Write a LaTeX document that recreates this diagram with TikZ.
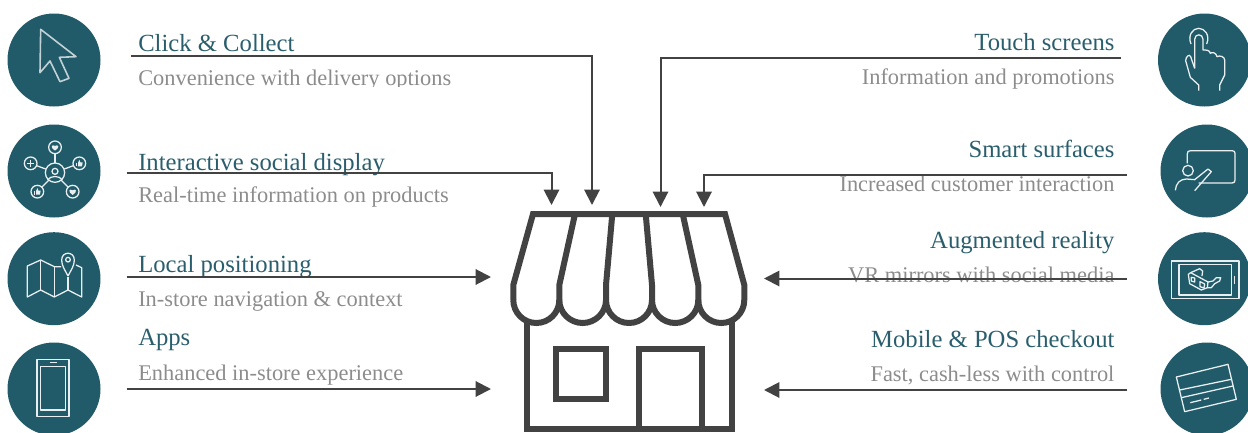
\documentclass[tikz,border=0pt]{standalone}
\usepackage{fontspec}
\setmainfont{Liberation Serif}
\usetikzlibrary{arrows.meta,calc,positioning}
\definecolor{tealdark}{HTML}{215B6A}
\definecolor{titleteal}{HTML}{2A5E6D}
\definecolor{subgray}{HTML}{8C8C8C}
\definecolor{linegray}{HTML}{424242}
\tikzset{
    mytitle/.style={inner sep=0pt,text=titleteal,font=\fontsize{18.5}{20}\selectfont},
    mysub/.style={inner sep=0pt,text=subgray,font=\fontsize{16.8}{18}\selectfont},
    myarrow/.style={draw=linegray,line width=1.5pt,-{Triangle[length=11.5pt,width=11.5pt]}},
    mystore/.style={draw=linegray,line width=4.5pt,line join=miter},
    myicon/.style={draw=white!90!tealdark,line width=0.95pt,line join=round},
    mycursor/.style={draw=white!72!tealdark,line width=1.2pt,line join=round},
    myzoom/.style={scale=1/3}
}

\begin{document}
\begin{tikzpicture}[x=0.75pt,y=-0.75pt]
  \path[use as bounding box,clip] (0,0) rectangle (1248,432);

  % discs
  \foreach \P/\Q in {54/60,54/171,54/278.7,54/389,1204.5/60,1207/171,1204.5/278.7,1207/389}{
    \fill[tealdark] (\P,\Q) circle (46.5);
  }

  % left texts
  \node[mytitle,anchor=base west] (tClick) at (138,51) {Click \& Collect};
  \begin{scope}
    \clip (130,60) rectangle (470,86.3);
    \node[mysub,anchor=base west] (sClick) at (138,85.8) {Convenience with delivery options};
  \end{scope}
  \node[mytitle,anchor=base west] (tSocial) at (138,170) {Interactive social display};
  \node[mysub,anchor=base west]   (sSocial) at (138,202.7) {Real-time information on products};
  \node[mytitle,anchor=base west] (tLocal) at (138,272) {Local positioning};
  \node[mysub,anchor=base west]   (sLocal) at (138,306.8) {In-store navigation \& context};
  \node[mytitle,anchor=base west] (tApps) at (138,345.5) {Apps};
  \node[mysub,anchor=base west]   (sApps) at (138,380) {Enhanced in-store experience};

  % right texts
  \node[mytitle,anchor=base east] (tTouch) at (1114.7,50.5) {Touch screens};
  \node[mysub,anchor=base east]   (sTouch) at (1114.7,84.8) {Information and promotions};
  \node[mytitle,anchor=base east] (tSmart) at (1114.7,157.3) {Smart surfaces};
  \node[mysub,anchor=base east]   (sSmart) at (1114.7,191.5) {Increased customer interaction};
  \node[mytitle,anchor=base east] (tAug) at (1114.7,248.3) {Augmented reality};
  \node[mysub,anchor=base east]   (sAug) at (1114.7,282.5) {VR mirrors with social media};
  \node[mytitle,anchor=base east] (tPos) at (1114.7,347) {Mobile \& POS checkout};
  \node[mysub,anchor=base east]   (sPos) at (1114.7,381.8) {Fast, cash-less with control};

  % connector ends
  \coordinate (L1) at (131,55.5);
  \coordinate (L2) at (127,173);
  \coordinate (L3) at (127,277);
  \coordinate (L4) at (127,389);
  \coordinate (R1) at (1121,57.5);
  \coordinate (R2) at (1127,174.5);
  \coordinate (R3) at (1127,278.5);
  \coordinate (R4) at (1127,390);
  \coordinate (T1) at (592,205);
  \coordinate (T2) at (551.5,205);
  \coordinate (T3) at (660.5,207);
  \coordinate (T4) at (704,207);
  \coordinate (S3) at (491,277);
  \coordinate (S4) at (491,389);
  \coordinate (S7) at (764,278.5);
  \coordinate (S8) at (764,390);

  \draw[myarrow] (L1) -| (T1);
  \draw[myarrow] (L2) -| (T2);
  \draw[myarrow] (L3) -- (S3);
  \draw[myarrow] (L4) -- (S4);
  \draw[myarrow] (R1) -| (T3);
  \draw[myarrow] (R2) -| (T4);
  \draw[myarrow] (R3) -- (S7);
  \draw[myarrow] (R4) -- (S8);

  % store
  \draw[mystore] (526.7,322) -- (526.7,429.3) -- (731.7,429.3) -- (731.7,322);
  \draw[mystore] (556,349) rectangle (606,399);
  \draw[mystore] (638.7,429.3) -- (638.7,349) -- (701.7,349) -- (701.7,429.3);
  \draw[mystore] (513.3,300) -- (513.3,285) -- (533,214) -- (725,214) -- (744.3,285) -- (744.3,300);
  \foreach \P/\Q in {575/559.3,612.3/606,645.7/652,682.7/698.3}{
    \draw[mystore] (\P,214) -- (\Q,285) -- (\Q,300);
  }
  \foreach \P/\Q in {513.3/559.3,559.3/606,606/652,652/698.3,698.3/744.3}{
    \draw[mystore] (\P,300) .. controls (\P,312.7) and ({(\P+\Q)/2-12.7},323) .. ({(\P+\Q)/2},323)
      .. controls ({(\P+\Q)/2+12.7},323) and (\Q,312.7) .. (\Q,300);
  }

  % icons, left column
  \begin{scope}[myzoom]
    \draw[mycursor] (122,88) -- (228,170) -- (178,172) -- (207,235) -- (180,245)
      -- (150,183) -- (120,218) -- cycle;
    % social
    \draw[myicon] (165,518) circle (29);
    \draw[myicon] (165,514) circle (9);
    \draw[myicon] (143,540) .. controls (150,526) and (180,526) .. (187,540);
    \foreach \P/\Q in {165/442,92/490,238/490,112/575,218/575}{
      \draw[myicon] (\P,\Q) circle (19);
    }
    \draw[myicon] (165,461) -- (165,489);
    \draw[myicon] (110,497) -- (137,507);
    \draw[myicon] (220,497) -- (193,507);
    \draw[myicon] (126,561) -- (147,540);
    \draw[myicon] (204,561) -- (183,540);
    \draw[myicon] (82,490) -- (102,490) (92,480) -- (92,500);
    \foreach \P/\Q in {165/442,218/575}{
      \fill[white!90!tealdark] (\P,\Q+10) .. controls (\P-16,\Q) and (\P-10,\Q-11) .. (\P,\Q-4)
        .. controls (\P+10,\Q-11) and (\P+16,\Q) .. (\P,\Q+10);
    }
    \foreach \P/\Q in {238/490,112/575}{
      \fill[white!90!tealdark] (\P-10,\Q-1) rectangle (\P-6,\Q+9);
      \fill[white!90!tealdark] (\P-4,\Q-1) -- (\P,\Q-11) -- (\P+3,\Q-3) -- (\P+10,\Q-3)
        -- (\P+8,\Q+9) -- (\P-4,\Q+9) -- cycle;
    }
  \end{scope}
  \begin{scope}[myzoom,shift={(0,648)}]
    % map
    \draw[myicon] (183,152) -- (163,152) -- (122,132) -- (82,150) -- (82,243) -- (122,222)
      -- (163,243) -- (204,222) -- (245,243) -- (245,155) -- (228,147);
    \draw[myicon] (122,132) -- (122,222) (163,152) -- (163,243) (204,183) -- (204,222);
    \draw[myicon] (204,180) .. controls (195,162) and (185,150) .. (185,132)
      .. controls (185,105) and (223,105) .. (223,132) .. controls (223,150) and (213,162) .. (204,180);
    \draw[myicon] (204,131) circle (7);
    % phone
    \draw[myicon] (111,431) rectangle (207,602);
    \draw[myicon] (121,451) rectangle (197,582);
    \draw[myicon] (150,440) -- (172,440);
  \end{scope}

  % icons, right column
  \begin{scope}[myzoom,shift={(2484,0)}]
    % hand
    \draw[myicon] (1100,205) -- (1100,118) .. controls (1100,100) and (1125,100) .. (1125,118)
      -- (1125,150) .. controls (1135,150) and (1145,150) .. (1147,160)
      .. controls (1152,155) and (1165,158) .. (1167,170)
      .. controls (1175,165) and (1190,170) .. (1190,180) -- (1190,225)
      -- (1175,255) -- (1175,272);
    \draw[myicon] (1112,272) -- (1112,255) -- (1087,232) -- (1073,182)
      .. controls (1073,170) and (1085,160) .. (1088,170) -- (1100,205);
    \draw[myicon] (1089,132) .. controls (1078,105) and (1095,85) .. (1112,85)
      .. controls (1130,85) and (1147,105) .. (1136,132);
    % board
    \draw[myicon] (1078,490) -- (1078,462) .. controls (1078,455) and (1080,452) .. (1088,452)
      -- (1212,452) .. controls (1218,452) and (1221,455) .. (1221,460) -- (1221,540)
      .. controls (1221,546) and (1218,549) .. (1212,549) -- (1112,549);
    \draw[myicon] (1080,512) circle (16);
    \draw[myicon] (1042,571) .. controls (1044,550) and (1055,538) .. (1075,537)
      -- (1100,539) -- (1140,507) -- (1150,515) -- (1100,572);
  \end{scope}
  \begin{scope}[myzoom,shift={(2484,648)}]
    % tablet
    \draw[myicon] (1030,135) rectangle (1233,247);
    \draw[myicon] (1053,145) rectangle (1210,237);
    \draw[myicon] (1220,180) -- (1220,205);
    % glasses
    \draw[myicon] (1081,175) -- (1088,170) -- (1140,198) -- (1138,215) -- (1120,222)
      -- (1085,203) -- cycle;
    \draw[myicon] (1090,184) -- (1100,186) -- (1100,198) -- (1090,195) -- cycle;
    \draw[myicon] (1116,197) -- (1130,204) -- (1128,216) -- (1116,212) -- cycle;
    \draw[myicon] (1088,170) -- (1115,158) -- (1124,165) -- (1122,180);
    \draw[myicon] (1140,198) -- (1155,195) -- (1165,185) -- (1178,185) -- (1175,195)
      -- (1160,203) -- (1150,215) -- (1138,215);
    % card
    \draw[myicon] (1045,483) -- (1200,445) -- (1225,550) -- (1070,587) -- cycle;
    \draw[myicon] (1055,522) -- (1210,490);
    \draw[myicon] (1060,545) -- (1215,510);
    \draw[myicon] (1087,560) -- (1120,552) (1127,550) -- (1143,546);
  \end{scope}
\end{tikzpicture}
\end{document}
